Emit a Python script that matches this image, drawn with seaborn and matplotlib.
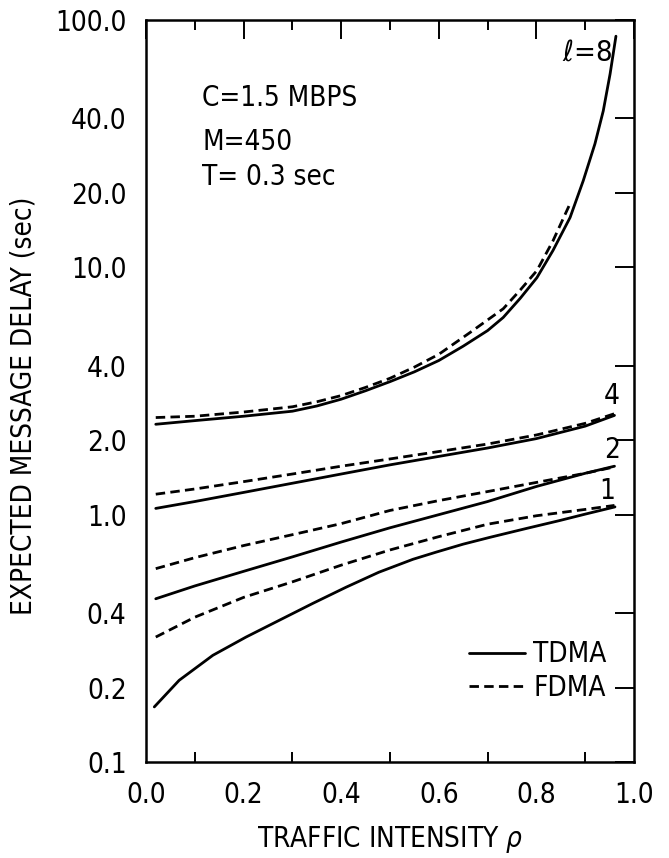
import matplotlib
matplotlib.use("Agg")
import matplotlib.pyplot as plt
from matplotlib.lines import Line2D
from matplotlib.ticker import FixedLocator, NullLocator
import seaborn as sns
import pandas as pd

# ---------------- data ----------------
rho_grid = [0.02, 0.1, 0.2, 0.3, 0.4, 0.5, 0.6, 0.7, 0.8, 0.9, 0.96]

l1_tdma_rho = [0.017, 0.068, 0.137, 0.205, 0.273, 0.342, 0.41, 0.477, 0.547,
               0.594, 0.65, 0.705, 0.78, 0.846, 0.9, 0.961]
l1_tdma = [0.167, 0.214, 0.270, 0.320, 0.374, 0.438, 0.509, 0.585, 0.66,
           0.705, 0.76, 0.81, 0.88, 0.945, 1.005, 1.075]
l1_fdma = [0.32, 0.385, 0.463, 0.535, 0.625, 0.72, 0.815, 0.915, 0.99, 1.05, 1.09]
l2_tdma = [0.457, 0.515, 0.59, 0.675, 0.775, 0.885, 1.00, 1.13, 1.30, 1.47, 1.57]
l2_fdma = [0.605, 0.67, 0.75, 0.83, 0.92, 1.04, 1.14, 1.24, 1.35, 1.47, 1.56]
l4_tdma = [1.06, 1.13, 1.23, 1.34, 1.46, 1.59, 1.72, 1.86, 2.03, 2.28, 2.52]
l4_fdma = [1.21, 1.27, 1.36, 1.46, 1.57, 1.68, 1.80, 1.93, 2.10, 2.34, 2.56]

l8_tdma_rho = [0.02, 0.1, 0.2, 0.3, 0.35, 0.4, 0.45, 0.5, 0.55, 0.6, 0.65, 0.7,
               0.732, 0.767, 0.801, 0.834, 0.869, 0.896, 0.92, 0.937, 0.951, 0.963]
l8_tdma = [2.32, 2.40, 2.50, 2.62, 2.75, 2.93, 3.17, 3.45, 3.78, 4.20, 4.80, 5.55,
           6.27, 7.5, 9.08, 11.7, 15.9, 22.4, 31.6, 42.9, 60.5, 86.0]
l8_fdma_rho = [0.02, 0.1, 0.2, 0.3, 0.35, 0.4, 0.45, 0.5, 0.55, 0.6, 0.664, 0.732,
               0.767, 0.801, 0.834, 0.869]
l8_fdma = [2.47, 2.50, 2.60, 2.73, 2.86, 3.03, 3.27, 3.56, 3.95, 4.45, 5.45, 6.8,
           8.1, 9.7, 12.8, 18.1]

x_ticks = [0.0, 0.2, 0.4, 0.6, 0.8, 1.0]
x_ticklabels = ["0.0", "0.2", "0.4", "0.6", "0.8", "1.0"]
x_minor = [0.1, 0.3, 0.5, 0.7, 0.9]
y_ticks = [0.1, 0.2, 0.4, 1.0, 2.0, 4.0, 10.0, 20.0, 40.0, 100.0]
y_ticklabels = ["0.1", "0.2", "0.4", "1.0", "2.0", "4.0", "10.0", "20.0", "40.0", "100.0"]

curves = [
    ("1", "TDMA", l1_tdma_rho, l1_tdma),
    ("1", "FDMA", rho_grid, l1_fdma),
    ("2", "TDMA", rho_grid, l2_tdma),
    ("2", "FDMA", rho_grid, l2_fdma),
    ("4", "TDMA", rho_grid, l4_tdma),
    ("4", "FDMA", rho_grid, l4_fdma),
    ("8", "TDMA", l8_tdma_rho, l8_tdma),
    ("8", "FDMA", l8_fdma_rho, l8_fdma),
]
rows = []
for l, scheme, xs, ys in curves:
    for x, y in zip(xs, ys):
        rows.append({"l": l, "scheme": scheme, "rho": x, "delay": y})
df = pd.DataFrame(rows)

# ---------------- style ----------------
sns.set_theme(style="white")
plt.rcParams["font.family"] = ["DejaVu Sans"]
plt.rcParams["font.stretch"] = "condensed"
plt.rcParams["mathtext.fontset"] = "dejavusans"
plt.rcParams["text.color"] = "black"
plt.rcParams["axes.labelcolor"] = "black"

FS = 20
DASH = (3.4, 1.9)

fig = plt.figure(figsize=(6.69, 8.58), dpi=100)
ax = fig.add_axes([146 / 669, 1 - 762 / 858, 488 / 669, 742 / 858])

for (l, scheme), sub in df.groupby(["l", "scheme"], sort=False):
    sns.lineplot(data=sub, x="rho", y="delay", ax=ax, color="black",
                 linewidth=2.0, estimator=None, sort=False,
                 linestyle="-" if scheme == "TDMA" else (0, DASH),
                 legend=False)

ax.set_yscale("log")
ax.set_xlim(0, 1)
ax.set_ylim(0.1, 100)
ax.yaxis.set_major_locator(FixedLocator(y_ticks))
ax.yaxis.set_minor_locator(NullLocator())
ax.set_yticklabels(y_ticklabels)
ax.set_xticks(x_ticks)
ax.set_xticklabels(x_ticklabels)
ax.xaxis.set_minor_locator(FixedLocator(x_minor))

ax.tick_params(axis="both", which="major", direction="in", length=13.5, width=1.4,
               labelsize=FS, pad=14, top=True, right=True, color="black",
               labelcolor="black")
ax.tick_params(axis="x", which="minor", direction="in", length=7, width=1.4,
               top=True, bottom=True, color="black")
for s in ax.spines.values():
    s.set_linewidth(1.8)
    s.set_color("black")

ax.set_xlabel("TRAFFIC INTENSITY $\\rho$", fontsize=FS, color="black")
ax.set_ylabel("EXPECTED MESSAGE DELAY (sec)", fontsize=FS, color="black")
ax.xaxis.set_label_coords(0.5, -0.083)
ax.yaxis.set_label_coords(-0.222, 0.48)

# annotations
ax.text(0.115, 48.4, "C=1.5 MBPS", fontsize=FS, va="center", ha="left")
ax.text(0.115, 32.0, "M=450", fontsize=FS, va="center", ha="left")
ax.text(0.115, 23.2, "T= 0.3 sec", fontsize=FS, va="center", ha="left")
ax.text(0.903, 73.5, "$\\ell$=8", fontsize=FS + 1, va="center", ha="center")
ax.text(0.955, 3.03, "4", fontsize=FS, va="center", ha="center")
ax.text(0.955, 1.82, "2", fontsize=FS, va="center", ha="center")
ax.text(0.945, 1.25, "1", fontsize=FS, va="center", ha="center")

handles = [Line2D([], [], color="black", lw=2.0, linestyle="-"),
           Line2D([], [], color="black", lw=2.0, linestyle=(0, DASH))]
ax.legend(handles, ["TDMA", "FDMA"], loc="center", bbox_to_anchor=(0.803, 0.1226),
          frameon=False, fontsize=FS, handlelength=2.0, handletextpad=0.3,
          labelspacing=0.2, borderpad=0.2)

fig.savefig("out.png", dpi=100)
